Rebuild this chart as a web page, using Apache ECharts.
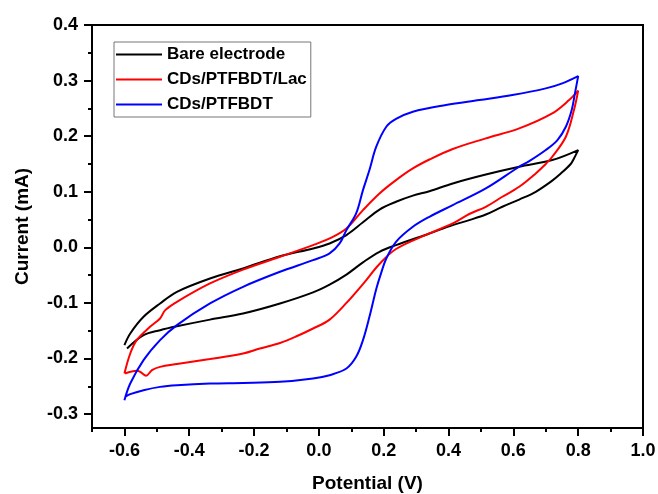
<!DOCTYPE html>
<html>
<head>
<meta charset="utf-8">
<script src="https://cdn.jsdelivr.net/npm/echarts@6/dist/echarts.min.js"></script>
<style>
    html, body { margin: 0; padding: 0; background: #fff; }
    #chart { width: 658px; height: 494px; }
</style>
</head>
<body>
<div id="chart"></div>
<script>
    // potential (V) / current (mA)
    let bareX = [-0.600, -0.582, -0.541, -0.490, -0.438, -0.336, -0.234, -0.120, -0.018, 0.033, 0.085, 0.136, 0.187, 0.238, 0.290, 0.341, 0.413, 0.515, 0.618, 0.720, 0.800,
        0.787, 0.777, 0.741, 0.720, 0.669, 0.618, 0.566, 0.515, 0.464, 0.413, 0.341, 0.238, 0.187, 0.136, 0.085, 0.033, -0.018, -0.120, -0.234, -0.336, -0.438, -0.490, -0.541, -0.592]
    let bareY = [-0.176, -0.155, -0.125, -0.101, -0.080, -0.056, -0.038, -0.016, -0.002, 0.007, 0.022, 0.045, 0.068, 0.082, 0.093, 0.101, 0.115, 0.131, 0.145, 0.157, 0.175,
        0.160, 0.150, 0.130, 0.120, 0.100, 0.086, 0.073, 0.059, 0.049, 0.040, 0.025, 0.004, -0.008, -0.027, -0.049, -0.067, -0.081, -0.101, -0.119, -0.130, -0.142, -0.149, -0.158, -0.182]

    let lacX = [-0.600, -0.582, -0.562, -0.521, -0.490, -0.474, -0.438, -0.336, -0.234, -0.120, -0.018, 0.033, 0.085, 0.136, 0.187, 0.238, 0.290, 0.341, 0.413, 0.515, 0.618, 0.720, 0.772, 0.800,
        0.787, 0.762, 0.720, 0.700, 0.669, 0.618, 0.566, 0.515, 0.464, 0.413, 0.341, 0.238, 0.187, 0.136, 0.085, 0.033, -0.018, -0.069, -0.120, -0.182, -0.234, -0.336, -0.438, -0.490, -0.515, -0.533, -0.551, -0.562, -0.598]
    let lacY = [-0.227, -0.191, -0.167, -0.143, -0.128, -0.113, -0.098, -0.065, -0.040, -0.017, 0.004, 0.016, 0.034, 0.067, 0.097, 0.121, 0.142, 0.158, 0.177, 0.196, 0.214, 0.241, 0.265, 0.282,
        0.247, 0.199, 0.163, 0.150, 0.133, 0.109, 0.091, 0.073, 0.060, 0.043, 0.025, -0.003, -0.030, -0.066, -0.100, -0.130, -0.146, -0.160, -0.172, -0.182, -0.191, -0.201, -0.210, -0.215, -0.221, -0.231, -0.224, -0.222, -0.227]

    let ptfX = [-0.600, -0.582, -0.541, -0.490, -0.438, -0.336, -0.234, -0.120, -0.018, 0.033, 0.064, 0.085, 0.115, 0.136, 0.156, 0.177, 0.208, 0.238, 0.290, 0.392, 0.495, 0.597, 0.700, 0.751, 0.800,
        0.790, 0.780, 0.762, 0.736, 0.700, 0.649, 0.618, 0.515, 0.413, 0.341, 0.290, 0.238, 0.208, 0.190, 0.177, 0.156, 0.136, 0.115, 0.085, 0.033, -0.018, -0.120, -0.234, -0.336, -0.438, -0.490, -0.541, -0.582, -0.598]
    let ptfY = [-0.275, -0.245, -0.203, -0.167, -0.140, -0.101, -0.071, -0.044, -0.023, -0.011, 0.007, 0.031, 0.061, 0.103, 0.139, 0.181, 0.217, 0.231, 0.244, 0.256, 0.265, 0.274, 0.286, 0.295, 0.308,
        0.277, 0.247, 0.217, 0.193, 0.175, 0.155, 0.145, 0.106, 0.076, 0.055, 0.037, 0.010, -0.020, -0.050, -0.075, -0.125, -0.167, -0.197, -0.218, -0.230, -0.236, -0.242, -0.244, -0.245, -0.248, -0.251, -0.257, -0.264, -0.269]

    let seriesNames = ['Bare electrode', 'CDs/PTFBDT/Lac', 'CDs/PTFBDT']
    let seriesColors = ['#000000', '#ff0000', '#0000ff']

    let xMajorTicks = [-0.6, -0.4, -0.2, 0.0, 0.2, 0.4, 0.6, 0.8, 1.0]
    let xMinorTicks = [-0.7, -0.5, -0.3, -0.1, 0.1, 0.3, 0.5, 0.7, 0.9]
    let yMajorTicks = [-0.3, -0.2, -0.1, 0.0, 0.1, 0.2, 0.3, 0.4]
    let yMinorTicks = [-0.25, -0.15, -0.05, 0.05, 0.15, 0.25, 0.35]

    let fontFamily = '"Liberation Sans", Arial, sans-serif'

    function pairs(xs, ys) {
        return xs.map((x, i) => [x, ys[i]])
    }

    function majorAxis(min, max, ticks, name, nameGap) {
        return {
            type: 'value',
            min: min,
            max: max,
            name: name,
            nameLocation: 'middle',
            nameGap: nameGap,
            nameTextStyle: { fontSize: 19, fontWeight: 'bold', color: '#000', fontFamily: fontFamily },
            axisLine: { show: true, onZero: false, lineStyle: { color: '#000', width: 2 } },
            axisTick: { show: true, customValues: ticks, length: 8, lineStyle: { color: '#000', width: 2 } },
            axisLabel: {
                customValues: ticks,
                margin: 14,
                fontSize: 18,
                fontWeight: 'bold',
                color: '#000',
                fontFamily: fontFamily,
                formatter: v => v.toFixed(1)
            },
            splitLine: { show: false }
        }
    }

    function minorAxis(min, max, ticks) {
        return {
            type: 'value',
            min: min,
            max: max,
            axisLine: { show: false, onZero: false },
            axisTick: { show: true, customValues: ticks, length: 4, lineStyle: { color: '#000', width: 2 } },
            axisLabel: { show: false },
            splitLine: { show: false }
        }
    }

    let xMain = majorAxis(-0.7, 1.0, xMajorTicks, 'Potential (V)', 46)
    xMain.position = 'bottom'
    let xMinor = minorAxis(-0.7, 1.0, xMinorTicks)
    xMinor.position = 'bottom'
    let yMain = majorAxis(-0.325, 0.4, yMajorTicks, 'Current (mA)', 60)
    yMain.position = 'left'
    let yMinor = minorAxis(-0.325, 0.4, yMinorTicks)
    yMinor.position = 'left'

    let curves = [pairs(bareX, bareY), pairs(lacX, lacY), pairs(ptfX, ptfY)]

    let chart = echarts.init(document.getElementById('chart'))
    chart.setOption({
        animation: false,
        backgroundColor: '#fff',
        grid: {
            left: 92,
            top: 25,
            right: 15,
            bottom: 66,
            outerBoundsMode: 'none',
            show: true,
            borderColor: '#000',
            borderWidth: 2,
            backgroundColor: 'transparent'
        },
        legend: {
            orient: 'vertical',
            left: 114,
            top: 42,
            icon: 'rect',
            itemWidth: 46,
            itemHeight: 2,
            itemGap: 8,
            padding: [4, 4, 4, 2],
            borderColor: '#777',
            borderWidth: 1,
            textStyle: { fontSize: 17, lineHeight: 17, fontWeight: 'bold', color: '#000', fontFamily: fontFamily },
            data: seriesNames
        },
        xAxis: [xMain, xMinor],
        yAxis: [yMain, yMinor],
        series: seriesNames.map((name, i) => ({
            name: name,
            type: 'line',
            xAxisIndex: 0,
            yAxisIndex: 0,
            data: curves[i],
            symbol: 'none',
            smooth: 0.35,
            color: seriesColors[i],
            lineStyle: { color: seriesColors[i], width: 2 }
        }))
    })
</script>
</body>
</html>
